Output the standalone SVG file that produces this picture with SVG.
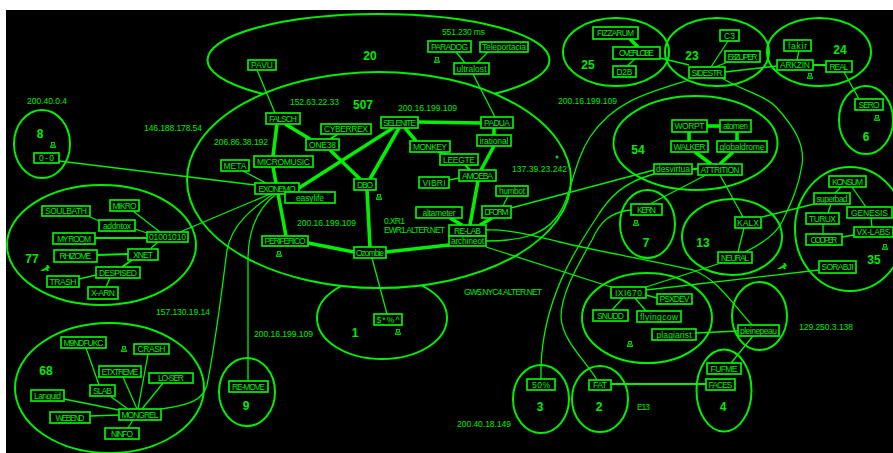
<svg xmlns="http://www.w3.org/2000/svg" width="893" height="453" viewBox="0 0 893 453">
<style>
text{font-family:"Liberation Sans",Arial,sans-serif;fill:#00ea00;text-anchor:middle}
.c{fill:none;stroke:#00f000;stroke-width:2}
.cf{fill:#000;stroke:#00f000;stroke-width:2}
.n{font-size:12px;font-weight:bold}
.a{font-size:8.5px}
.t{font-size:8.5px;fill:#00f000}
.b{fill:#000;stroke:#00f000;stroke-width:1.7}
#conn path,#conn line{fill:none;stroke:#00f000;stroke-width:1.3}
#conn .w{stroke-width:3.6}
#conn .m{stroke-width:2}
.i{fill:none;stroke:#00e000;stroke-width:0.9}
</style>
<defs>
<g id="pc"><rect x="-1.5" y="-2.5" width="3" height="2.5" class="i"/><rect x="-2.5" y="1" width="5" height="1.5" class="i"/></g>
<path id="rab" d="M-5,2 L-2,0 L0,-1 L2,-3 L1,-4 L3,-4 L4,-3 L5,-1 L3,0 L4,2 L2,2 L1,1 L-2,2 Z" fill="#00e000"/>
</defs>
<rect x="0" y="0" width="893" height="453" fill="#fff"/>
<rect x="6" y="10" width="887" height="443" fill="#000"/>
<g id="clusters">
<g id="c-20"><ellipse class="cf" cx="378.5" cy="60" rx="171" ry="46"/><text class="n" x="370" y="60">20</text></g>
<g id="c-1"><ellipse class="cf" cx="382" cy="318" rx="65" ry="41"/><text class="n" x="355" y="337">1</text></g>
<g id="c-507"><ellipse class="cf" cx="379" cy="180" rx="192" ry="108"/><text class="n" x="363" y="109">507</text></g>
<g id="c-8"><ellipse class="c" cx="42" cy="144" rx="28" ry="34"/><text class="n" x="40" y="138">8</text><use href="#pc" x="53" y="145"/></g>
<g id="c-77"><ellipse class="c" cx="101.5" cy="245" rx="94.5" ry="60"/><text class="n" x="32" y="263">77</text><use href="#rab" x="45" y="269"/></g>
<g id="c-68"><ellipse class="c" cx="109.5" cy="388" rx="94.5" ry="65"/><text class="n" x="46" y="375">68</text><use href="#pc" x="124" y="349"/></g>
<g id="c-9"><ellipse class="c" cx="247" cy="392" rx="28" ry="34"/><text class="n" x="246" y="410">9</text></g>
<g id="c-25"><ellipse class="c" cx="616" cy="52" rx="53" ry="34"/><text class="n" x="588" y="69">25</text></g>
<g id="c-23"><ellipse class="c" cx="717" cy="52" rx="52" ry="34"/><text class="n" x="692" y="60">23</text></g>
<g id="c-24"><ellipse class="c" cx="819" cy="52" rx="52" ry="34"/><text class="n" x="840" y="54">24</text></g>
<g id="c-6"><ellipse class="c" cx="866" cy="120" rx="27" ry="34"/><text class="n" x="866" y="141">6</text></g>
<g id="c-54"><ellipse class="c" cx="695.5" cy="143" rx="82" ry="47"/><text class="n" x="638" y="154">54</text></g>
<g id="c-7"><ellipse class="c" cx="647.5" cy="224" rx="27.5" ry="34"/><text class="n" x="646" y="247">7</text></g>
<g id="c-13"><ellipse class="c" cx="732" cy="237" rx="50" ry="38"/><text class="n" x="703" y="247">13</text></g>
<g id="c-35"><ellipse class="c" cx="850" cy="229" rx="55" ry="62"/><text class="n" x="874" y="264">35</text></g>
<g id="c-ixi"><ellipse class="c" cx="647" cy="318" rx="65" ry="45"/><use href="#pc" x="630" y="344"/></g>
<g id="c-plein"><ellipse class="c" cx="759.5" cy="316" rx="27.5" ry="34"/></g>
<g id="c-4"><ellipse class="c" cx="724" cy="390.5" rx="27.5" ry="41"/><text class="n" x="723" y="411">4</text></g>
<g id="c-2"><ellipse class="c" cx="600" cy="399" rx="28" ry="33"/><text class="n" x="599" y="411">2</text></g>
<g id="c-3"><ellipse class="c" cx="541" cy="399" rx="28" ry="34"/><text class="n" x="540" y="411">3</text></g>
</g>
<g id="conn">
<line x1="59" y1="161" x2="255" y2="185"/>
<line x1="243" y1="171" x2="266" y2="183"/>
<line x1="257" y1="70" x2="275" y2="113"/>
<line class="w" x1="285" y1="124" x2="310" y2="139"/>
<line class="m" x1="338" y1="134" x2="330" y2="139"/>
<line class="w" x1="277" y1="124" x2="273" y2="156"/>
<line class="w" x1="273" y1="167" x2="286" y2="236"/>
<line class="w" x1="393" y1="128" x2="299" y2="188"/>
<line class="w" x1="330" y1="150" x2="360" y2="179"/>
<line class="w" x1="399" y1="128" x2="370" y2="179"/>
<line class="w" x1="418" y1="122" x2="481" y2="123"/>
<line class="w" x1="405" y1="128" x2="416" y2="141"/>
<line class="m" x1="438" y1="152" x2="447" y2="154"/>
<line class="m" x1="465" y1="165" x2="470" y2="170"/>
<line class="w" x1="494" y1="146" x2="481" y2="170"/>
<line class="w" x1="494" y1="128" x2="494" y2="135"/>
<line class="w" x1="478" y1="181" x2="470" y2="225"/>
<line x1="449" y1="180" x2="459" y2="178"/>
<line x1="473" y1="74" x2="495" y2="117"/>
<line x1="456" y1="52" x2="465" y2="63"/>
<line x1="488" y1="52" x2="477" y2="63"/>
<line class="w" x1="367" y1="190" x2="370" y2="247"/>
<line class="w" x1="308" y1="243" x2="354" y2="252"/>
<line class="w" x1="386" y1="252" x2="449" y2="245"/>
<line class="w" x1="450" y1="218" x2="462" y2="225"/>
<line class="w" x1="492" y1="218" x2="480" y2="225"/>
<line x1="508" y1="196" x2="503" y2="206"/>
<line x1="511" y1="208" x2="654" y2="170"/>
<line x1="372" y1="258" x2="387" y2="314"/>
<line x1="270" y1="194" x2="180" y2="232"/>
<path d="M273,194 C250,210 232,225 227,250 C222,290 216,340 207,385 C203,400 190,405 161,409"/>
<path d="M276,194 C262,205 248,225 248,260 L248,381"/>
<line x1="135" y1="229" x2="147" y2="233"/>
<line x1="88" y1="216" x2="99" y2="221"/>
<line x1="133" y1="211" x2="160" y2="232"/>
<line class="m" x1="95" y1="238" x2="147" y2="238"/>
<line x1="158" y1="242" x2="150" y2="249"/>
<line class="m" x1="97" y1="255" x2="128" y2="254"/>
<line class="m" x1="132" y1="260" x2="122" y2="267"/>
<line x1="96" y1="275" x2="79" y2="279"/>
<line x1="110" y1="278" x2="106" y2="287"/>
<line x1="86" y1="348" x2="99" y2="385"/>
<line x1="110" y1="396" x2="128" y2="409"/>
<line x1="123" y1="377" x2="137" y2="409"/>
<line x1="148" y1="354" x2="138" y2="409"/>
<line x1="163" y1="383" x2="142" y2="409"/>
<line x1="64" y1="399" x2="119" y2="410"/>
<line x1="90" y1="416" x2="119" y2="415"/>
<line x1="133" y1="420" x2="128" y2="428"/>
<line class="w" x1="630" y1="39" x2="638" y2="47"/>
<line x1="635" y1="59" x2="627" y2="66"/>
<line x1="660" y1="58" x2="689" y2="65"/>
<line x1="728" y1="41" x2="711" y2="67"/>
<line x1="728" y1="62" x2="715" y2="67"/>
<line x1="725" y1="72" x2="777" y2="66"/>
<line x1="799" y1="51" x2="797" y2="60"/>
<line class="m" x1="813" y1="65" x2="826" y2="65"/>
<line x1="844" y1="72" x2="859" y2="99"/>
<path d="M689,80 C650,92 615,100 590,137 C572,165 572,198 556,218 C542,236 518,241 486,241"/>
<path d="M654,174 C625,182 610,195 595,220 C575,250 543,300 541,367 L541,379"/>
<path d="M631,210 C610,212 600,222 592,240 C575,270 561,295 561,317 C562,340 585,360 597,380"/>
<path d="M722,78 C745,92 765,95 777,108 C795,128 805,145 802,165 C798,190 790,205 782,222 C775,235 760,245 745,252"/>
<line x1="706" y1="175" x2="650" y2="204"/>
<line x1="720" y1="175" x2="743" y2="217"/>
<line x1="744" y1="228" x2="738" y2="252"/>
<line x1="762" y1="217" x2="814" y2="204"/>
<line x1="718" y1="264" x2="646" y2="287"/>
<line x1="819" y1="270" x2="646" y2="290"/>
<path d="M486,230 C510,229 535,236 560,242 C600,252 650,260 693,270 C715,278 730,300 752,325"/>
<line x1="486" y1="247" x2="611" y2="287"/>
<line x1="696" y1="333" x2="738" y2="331"/>
<line x1="753" y1="336" x2="731" y2="363"/>
<line class="m" x1="611" y1="384" x2="706" y2="384"/>
<line x1="623" y1="298" x2="612" y2="310"/>
<line x1="635" y1="298" x2="646" y2="311"/>
<line x1="646" y1="295" x2="657" y2="298"/>
<line class="w" x1="707" y1="126" x2="720" y2="126"/>
<line class="w" x1="689" y1="132" x2="689" y2="141"/>
<line class="w" x1="737" y1="132" x2="737" y2="141"/>
<line class="w" x1="695" y1="152" x2="711" y2="164"/>
<line class="w" x1="733" y1="152" x2="720" y2="164"/>
<line class="m" x1="692" y1="169" x2="698" y2="169"/>
<line x1="841" y1="187" x2="835" y2="193"/>
<line x1="852" y1="187" x2="866" y2="207"/>
<line x1="831" y1="204" x2="828" y2="213"/>
<line x1="823" y1="224" x2="823" y2="234"/>
<line x1="871" y1="218" x2="872" y2="227"/>
<line x1="842" y1="237" x2="854" y2="235"/>
</g>
<g id="nodes">
<g id="n-0-0"><rect class="b" x="34" y="153" width="25" height="10"/><text class="t" x="46.5" y="161" textLength="15">0-0</text></g>
<g id="n-META"><rect class="b" x="221" y="160" width="28" height="11"/><text class="t" x="235" y="168.5" textLength="23">META</text></g>
<g id="n-PAVU"><rect class="b" x="248" y="60" width="28" height="10"/><text class="t" x="262" y="68" textLength="22">PAVU</text></g>
<g id="n-FALSCH"><rect class="b" x="266" y="113" width="34" height="11"/><text class="t" x="283" y="121.5" textLength="28">FALSCH</text></g>
<g id="n-CYBERREX"><rect class="b" x="321" y="124" width="50" height="10"/><text class="t" x="346" y="132" textLength="44">CYBERREX</text></g>
<g id="n-ONE38"><rect class="b" x="306" y="139" width="33" height="11"/><text class="t" x="322.5" y="147.5" textLength="27">ONE38</text></g>
<g id="n-SELENITE"><rect class="b" x="381" y="117" width="37" height="11"/><text class="t" x="399.5" y="125.5" textLength="33">SELENITE</text></g>
<g id="n-PADUA"><rect class="b" x="481" y="117" width="32" height="11"/><text class="t" x="497" y="125.5" textLength="26">PADUA</text></g>
<g id="n-irational"><rect class="b" x="477" y="135" width="34" height="11"/><text class="t" x="494" y="143.5" textLength="29">irational</text></g>
<g id="n-MONKEY"><rect class="b" x="410" y="141" width="40" height="11"/><text class="t" x="430" y="149.5" textLength="34">MONKEY</text></g>
<g id="n-LEEGTE"><rect class="b" x="440" y="154" width="38" height="11"/><text class="t" x="459" y="162.5" textLength="32">LEEGTE</text></g>
<g id="n-MICROMUSIC"><rect class="b" x="254" y="156" width="59" height="11"/><text class="t" x="283.5" y="164.5" textLength="53">MICROMUSIC</text></g>
<g id="n-PARADOG"><rect class="b" x="428" y="41" width="43" height="11"/><text class="t" x="449.5" y="49.5" textLength="37">PARADOG</text></g>
<g id="n-Teleportacia"><rect class="b" x="480" y="42" width="48" height="10"/><text class="t" x="504" y="50" textLength="44">Teleportacia</text></g>
<g id="n-ultralost"><rect class="b" x="454" y="63" width="35" height="11"/><text class="t" x="471.5" y="71.5" textLength="30">ultralost</text></g>
<g id="n-EXONEMO"><rect class="b" x="255" y="183" width="44" height="11"/><text class="t" x="277" y="191.5" textLength="37">EXONEMO</text></g>
<g id="n-easylife"><rect class="b" x="285" y="192" width="50" height="11"/><text class="t" x="310" y="200.5" textLength="28">easylife</text></g>
<g id="n-DBO"><rect class="b" x="354" y="179" width="22" height="11"/><text class="t" x="365" y="187.5" textLength="16">DBO</text></g>
<g id="n-VIBRI"><rect class="b" x="419" y="177" width="30" height="11"/><text class="t" x="434" y="185.5" textLength="23">VIBRI</text></g>
<g id="n-AMOEBA"><rect class="b" x="459" y="170" width="37" height="11"/><text class="t" x="477.5" y="178.5" textLength="31">AMOEBA</text></g>
<g id="n-humbot"><rect class="b" x="496" y="186" width="32" height="10"/><text class="t" x="512" y="194" textLength="26">humbot</text></g>
<g id="n-DFORM"><rect class="b" x="482" y="206" width="29" height="12"/><text class="t" x="496.5" y="215" textLength="24">DFORM</text></g>
<g id="n-altameter"><rect class="b" x="416" y="207" width="46" height="11"/><text class="t" x="439" y="215.5" textLength="33">altameter</text></g>
<g id="n-RE-LAB"><rect class="b" x="449" y="225" width="37" height="11"/><text class="t" x="467.5" y="233.5" textLength="27">RE-LAB</text></g>
<g id="n-archineot"><rect class="b" x="449" y="236" width="37" height="10"/><text class="t" x="467.5" y="244" textLength="33">archineot</text></g>
<g id="n-PERIFERICO"><rect class="b" x="262" y="236" width="46" height="10"/><text class="t" x="285" y="244" textLength="41">PERIFERICO</text></g>
<g id="n-Ozombie"><rect class="b" x="354" y="247" width="32" height="11"/><text class="t" x="370" y="255.5" textLength="28">Ozombie</text></g>
<g id="n-sym"><rect class="b" x="374" y="314" width="28" height="11"/><text class="t" x="388" y="322.5" textLength="23">$*%^</text></g>
<g id="n-SOULBATH"><rect class="b" x="42" y="206" width="48" height="10"/><text class="t" x="66" y="214" textLength="42">SOULBATH</text></g>
<g id="n-MIKRO"><rect class="b" x="110" y="200" width="29" height="11"/><text class="t" x="124.5" y="208.5" textLength="24">MIKRO</text></g>
<g id="n-addntox"><rect class="b" x="99" y="220" width="36" height="11"/><text class="t" x="117" y="228.5" textLength="28">addntox</text></g>
<g id="n-MYROOM"><rect class="b" x="53" y="233" width="42" height="11"/><text class="t" x="74" y="241.5" textLength="34">MY ROOM</text></g>
<g id="n-01001010"><rect class="b" x="147" y="232" width="41" height="10"/><text class="t" x="167.5" y="240" textLength="37">01001010</text></g>
<g id="n-RHIZOME"><rect class="b" x="54" y="250" width="43" height="12"/><text class="t" x="75.5" y="259" textLength="32">RHIZOME</text></g>
<g id="n-XNET"><rect class="b" x="128" y="249" width="30" height="11"/><text class="t" x="143" y="257.5" textLength="20">XNET</text></g>
<g id="n-DESPISED"><rect class="b" x="96" y="267" width="44" height="11"/><text class="t" x="118" y="275.5" textLength="38">DESPISED</text></g>
<g id="n-TRASH"><rect class="b" x="47" y="276" width="32" height="11"/><text class="t" x="63" y="284.5" textLength="27">TRASH</text></g>
<g id="n-X-ARN"><rect class="b" x="88" y="287" width="30" height="12"/><text class="t" x="103" y="296" textLength="24">X-ARN</text></g>
<g id="n-M9NDFUKC"><rect class="b" x="61" y="337" width="45" height="11"/><text class="t" x="83.5" y="345.5" textLength="40">M9NDFUKC</text></g>
<g id="n-CRASH"><rect class="b" x="134" y="344" width="35" height="10"/><text class="t" x="151.5" y="352" textLength="28">CRASH</text></g>
<g id="n-ETXTREME"><rect class="b" x="99" y="366" width="42" height="11"/><text class="t" x="120" y="374.5" textLength="37">ETXTREME</text></g>
<g id="n-LO-SER"><rect class="b" x="149" y="373" width="44" height="10"/><text class="t" x="171" y="381" textLength="26">LO-SER</text></g>
<g id="n-SLAB"><rect class="b" x="90" y="385" width="25" height="11"/><text class="t" x="102.5" y="393.5" textLength="19">SLAB</text></g>
<g id="n-Languid"><rect class="b" x="31" y="390" width="33" height="11"/><text class="t" x="47.5" y="398.5" textLength="27">Languid</text></g>
<g id="n-MONGREL"><rect class="b" x="119" y="409" width="42" height="11"/><text class="t" x="140" y="417.5" textLength="37">MONGREL</text></g>
<g id="n-WEBEND"><rect class="b" x="50" y="412" width="40" height="11"/><text class="t" x="70" y="420.5" textLength="29">WEBEND</text></g>
<g id="n-NINFO"><rect class="b" x="105" y="428" width="34" height="11"/><text class="t" x="122" y="436.5" textLength="22">NINFO</text></g>
<g id="n-RE-MOVE"><rect class="b" x="229" y="381" width="39" height="11"/><text class="t" x="248.5" y="389.5" textLength="33">RE-MOVE</text></g>
<g id="n-FIZZARUM"><rect class="b" x="593" y="27" width="45" height="12"/><text class="t" x="615.5" y="36" textLength="37">FIZZARUM</text></g>
<g id="n-OVERLOBE"><rect class="b" x="613" y="47" width="47" height="12"/><text class="t" x="636.5" y="56" textLength="35">OVERLOBE</text></g>
<g id="n-D2B"><rect class="b" x="613" y="66" width="23" height="11"/><text class="t" x="624.5" y="74.5" textLength="16">D2B</text></g>
<g id="n-C3"><rect class="b" x="720" y="30" width="19" height="11"/><text class="t" x="729.5" y="38.5" textLength="11">C3</text></g>
<g id="n-E8ZUPER"><rect class="b" x="725" y="51" width="35" height="11"/><text class="t" x="742.5" y="59.5" textLength="30">E8ZUPER</text></g>
<g id="n-SIDESTR"><rect class="b" x="689" y="67" width="36" height="11"/><text class="t" x="707" y="75.5" textLength="31">SIDESTR</text></g>
<g id="n-fakir"><rect class="b" x="784" y="40" width="27" height="11"/><text class="t" x="797.5" y="48.5" textLength="19">fakir</text></g>
<g id="n-ARKZIN"><rect class="b" x="777" y="60" width="36" height="10"/><text class="t" x="795" y="68" textLength="30">ARKZIN</text></g>
<g id="n-REAL"><rect class="b" x="826" y="61" width="26" height="11"/><text class="t" x="839" y="69.5" textLength="19">REAL</text></g>
<g id="n-SERO"><rect class="b" x="855" y="99" width="28" height="11"/><text class="t" x="869" y="107.5" textLength="21">SERO</text><use href="#pc" x="877" y="118"/></g>
<g id="n-WORPT"><rect class="b" x="672" y="120" width="35" height="12"/><text class="t" x="689.5" y="129" textLength="30">WORPT</text></g>
<g id="n-atomen"><rect class="b" x="720" y="120" width="31" height="12"/><text class="t" x="735.5" y="129" textLength="25">atomen</text></g>
<g id="n-WALKER"><rect class="b" x="671" y="141" width="37" height="11"/><text class="t" x="689.5" y="149.5" textLength="32">WALKER</text></g>
<g id="n-globaldrome"><rect class="b" x="717" y="141" width="50" height="11"/><text class="t" x="742" y="149.5" textLength="45">globaldrome</text></g>
<g id="n-desvirtua"><rect class="b" x="654" y="164" width="38" height="10"/><text class="t" x="673" y="172" textLength="34">desvirtua</text></g>
<g id="n-ATTRITION"><rect class="b" x="698" y="164" width="44" height="11"/><text class="t" x="720" y="172.5" textLength="39">ATTRITION</text></g>
<g id="n-KERN"><rect class="b" x="631" y="204" width="31" height="11"/><text class="t" x="646.5" y="212.5" textLength="19">KERN</text><use href="#pc" x="636" y="223"/></g>
<g id="n-KALX"><rect class="b" x="735" y="217" width="26" height="11"/><text class="t" x="748" y="225.5" textLength="22">KALX</text></g>
<g id="n-KONSUM"><rect class="b" x="829" y="176" width="37" height="11"/><text class="t" x="847.5" y="184.5" textLength="31">KONSUM</text></g>
<g id="n-superbad"><rect class="b" x="814" y="193" width="36" height="11"/><text class="t" x="832" y="201.5" textLength="31">superbad</text></g>
<g id="n-GENESIS"><rect class="b" x="847" y="207" width="45" height="11"/><text class="t" x="869.5" y="215.5" textLength="37">GENESIS</text></g>
<g id="n-TURUX"><rect class="b" x="806" y="213" width="33" height="11"/><text class="t" x="822.5" y="221.5" textLength="27">TURUX</text></g>
<g id="n-VX-LABS"><rect class="b" x="854" y="227" width="39" height="10"/><text class="t" x="873.5" y="235" textLength="34">VX-LABS</text></g>
<g id="n-COOPER"><rect class="b" x="806" y="234" width="36" height="11"/><text class="t" x="824" y="242.5" textLength="27">COOPER</text></g>
<g id="n-NEURAL"><rect class="b" x="718" y="252" width="34" height="11"/><text class="t" x="735" y="260.5" textLength="28">NEURAL</text></g>
<g id="n-SORABJI"><rect class="b" x="819" y="261" width="37" height="12"/><text class="t" x="837.5" y="270" textLength="32">SORABJI</text></g>
<g id="n-IXI670"><rect class="b" x="611" y="287" width="35" height="11"/><text class="t" x="628.5" y="295.5" textLength="27">IXI670</text></g>
<g id="n-PSXDEV"><rect class="b" x="657" y="294" width="35" height="10"/><text class="t" x="674.5" y="302" textLength="30">PSXDEV</text></g>
<g id="n-SNUDD"><rect class="b" x="593" y="310" width="35" height="11"/><text class="t" x="610.5" y="318.5" textLength="27">SNUDD</text></g>
<g id="n-flyingcow"><rect class="b" x="637" y="311" width="44" height="11"/><text class="t" x="659" y="319.5" textLength="38">flyingcow</text></g>
<g id="n-plagiarist"><rect class="b" x="652" y="329" width="44" height="11"/><text class="t" x="674" y="337.5" textLength="35">plagiarist</text></g>
<g id="n-pleinepeau"><rect class="b" x="738" y="325" width="41" height="11"/><text class="t" x="758.5" y="333.5" textLength="37">pleinepeau</text></g>
<g id="n-FUFME"><rect class="b" x="707" y="363" width="34" height="11"/><text class="t" x="724" y="371.5" textLength="27">FUFME</text></g>
<g id="n-FACES"><rect class="b" x="706" y="379" width="29" height="11"/><text class="t" x="720.5" y="387.5" textLength="24">FACES</text></g>
<g id="n-FAT"><rect class="b" x="589" y="380" width="22" height="10"/><text class="t" x="600" y="388" textLength="14">FAT</text></g>
<g id="n-50"><rect class="b" x="527" y="379" width="28" height="11"/><text class="t" x="541" y="387.5" textLength="18">50%</text></g>
</g>
<g id="labels">
<text class="a" x="47" y="104" textLength="40">200.40.0.4</text>
<text class="a" x="173" y="131" textLength="58">146.188.178.54</text>
<text class="a" x="241" y="145" textLength="54">206.86.38.192</text>
<text class="a" x="314.5" y="105" textLength="49">152.63.22.33</text>
<text class="a" x="427.5" y="111" textLength="59">200.16.199.109</text>
<text class="a" x="463.5" y="35" textLength="43">551.230 ms</text>
<text class="a" x="539.5" y="172" textLength="55">137.39.23.242</text>
<text class="a" x="326.5" y="226" textLength="59">200.16.199.109</text>
<text class="a" x="394.5" y="224" textLength="21">0.XR1</text>
<text class="a" x="414.5" y="233" textLength="61">EWR1.ALTER.NET</text>
<text class="a" x="503" y="295" textLength="78">GW5.NYC4.ALTER.NET</text>
<text class="a" x="283.5" y="337" textLength="59">200.16.199.109</text>
<text class="a" x="183" y="315" textLength="54">157.130.19.14</text>
<text class="a" x="587.5" y="104" textLength="59">200.16.199.109</text>
<text class="a" x="826" y="330" textLength="54">129.250.3.138</text>
<text class="a" x="643.5" y="410" textLength="13">E13</text>
<text class="a" x="484" y="427" textLength="54">200.40.18.149</text>
<circle cx="557" cy="157" r="1.5" fill="#00e000"/>
<use href="#pc" x="279" y="254"/>
<use href="#pc" x="437" y="60"/>
<use href="#pc" x="379" y="197"/>
<use href="#pc" x="398" y="332"/>
<use href="#pc" x="810" y="76"/>
<use href="#pc" x="885" y="247"/>
<use href="#rab" x="782" y="267"/>
</g>
</svg>
